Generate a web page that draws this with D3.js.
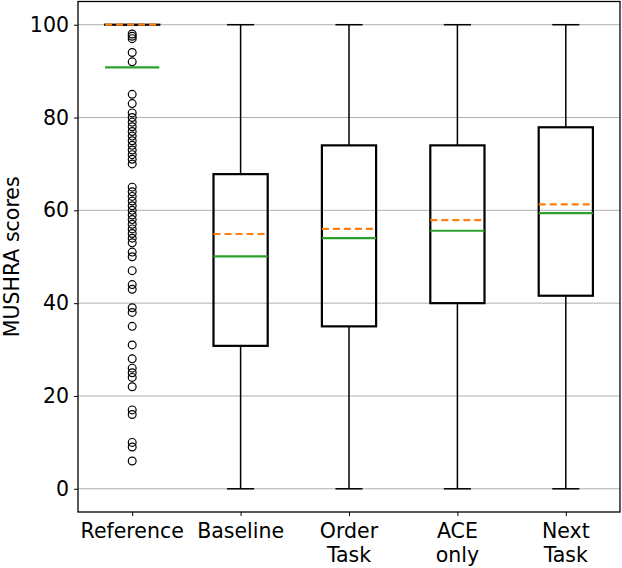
<!DOCTYPE html>
<html>
<head>
<meta charset="utf-8">
<script src="https://cdn.jsdelivr.net/npm/d3@7"></script>
<style>
  body { margin: 0; background: #fff; }
  text { font-family: "DejaVu Sans", sans-serif; }
</style>
</head>
<body>
<div id="chart"></div>
<script>
// categories (two-line labels)
var categories = ['Reference', 'Baseline', 'Order Task', 'ACE only', 'Next Task'];
var labelLines = [['Reference'], ['Baseline'], ['Order', 'Task'], ['ACE', 'only'], ['Next', 'Task']];

// box statistics
var q1 = [100, 30.8, 35, 40, 41.6];
var q3 = [100, 67.8, 74, 74, 77.9];
var medians = [100, 54.9, 56, 57.9, 61.3];
var means = [90.8, 50.1, 54, 55.6, 59.4];
var whiskLow = [100, 0, 0, 0, 0];
var whiskHigh = [100, 100, 100, 100, 100];

// outliers of the Reference condition
var refOutliers = [98, 97.5, 97, 94, 92, 85, 83, 81, 80, 79, 78, 77, 76, 75, 74, 73, 72, 71, 70,
  65, 64, 63, 62, 61, 60, 59, 58, 57, 56, 55, 54, 53, 51, 50, 47, 44, 43, 39, 38, 35,
  31, 28, 26, 25, 24, 22, 17, 16, 10, 9, 6];

var yTicks = [0, 20, 40, 60, 80, 100];

var width = 622, height = 568;
var plotL = 78, plotR = 620, plotT = 1.5, plotB = 512;
var fontSize = 20.5;

var svg = d3.select('#chart')
  .append('svg')
  .attr('width', width)
  .attr('height', height);

var x = d3.scalePoint()
  .domain(categories)
  .range([plotL, plotR])
  .padding(0.5);

var y = d3.scaleLinear()
  .domain([-5, 105])
  .range([plotB, plotT]);

var boxW = x.step() * 0.5;

// grid
svg.append('g')
  .selectAll('line')
  .data(yTicks)
  .enter().append('line')
  .attr('x1', plotL).attr('x2', plotR)
  .attr('y1', d => y(d)).attr('y2', d => y(d))
  .attr('stroke', '#b0b0b0')
  .attr('stroke-width', 1);

var rows = categories.map((c, i) => ({
  cat: c, q1: q1[i], q3: q3[i], med: medians[i], mean: means[i], lo: whiskLow[i], hi: whiskHigh[i]
}));

var g = svg.append('g');

// whiskers
g.selectAll('.wlo').data(rows).enter().append('line')
  .attr('x1', d => x(d.cat)).attr('x2', d => x(d.cat))
  .attr('y1', d => y(d.q1)).attr('y2', d => y(d.lo))
  .attr('stroke', '#000').attr('stroke-width', 1.5);
g.selectAll('.whi').data(rows).enter().append('line')
  .attr('x1', d => x(d.cat)).attr('x2', d => x(d.cat))
  .attr('y1', d => y(d.q3)).attr('y2', d => y(d.hi))
  .attr('stroke', '#000').attr('stroke-width', 1.5);

// caps
['lo', 'hi'].forEach(k => {
  g.selectAll('.cap' + k).data(rows).enter().append('line')
    .attr('x1', d => x(d.cat) - boxW / 4).attr('x2', d => x(d.cat) + boxW / 4)
    .attr('y1', d => y(d[k])).attr('y2', d => y(d[k]))
    .attr('stroke', '#000').attr('stroke-width', 1.5);
});

// boxes
g.selectAll('rect').data(rows).enter().append('rect')
  .attr('x', d => x(d.cat) - boxW / 2)
  .attr('width', boxW)
  .attr('y', d => y(d.q3))
  .attr('height', d => Math.max(0.01, y(d.q1) - y(d.q3)))
  .attr('fill', 'none')
  .attr('stroke', '#000')
  .attr('stroke-width', 2.2);

// means (green solid)
g.selectAll('.mean').data(rows).enter().append('line')
  .attr('x1', d => x(d.cat) - boxW / 2).attr('x2', d => x(d.cat) + boxW / 2)
  .attr('y1', d => y(d.mean)).attr('y2', d => y(d.mean))
  .attr('stroke', '#2ca02c').attr('stroke-width', 2.2);

// medians (orange dashed)
g.selectAll('.med').data(rows).enter().append('line')
  .attr('x1', d => x(d.cat) - boxW / 2).attr('x2', d => x(d.cat) + boxW / 2)
  .attr('y1', d => y(d.med)).attr('y2', d => y(d.med))
  .attr('stroke', '#ff7f0e').attr('stroke-width', 2.2)
  .attr('stroke-dasharray', '7,4');

// outliers
g.selectAll('circle').data(refOutliers).enter().append('circle')
  .attr('cx', x('Reference'))
  .attr('cy', d => y(d))
  .attr('r', 3.9)
  .attr('fill', 'none')
  .attr('stroke', '#000')
  .attr('stroke-width', 1.2);

// frame
svg.append('rect')
  .attr('x', plotL).attr('y', plotT)
  .attr('width', plotR - plotL).attr('height', plotB - plotT)
  .attr('fill', 'none').attr('stroke', '#000').attr('stroke-width', 1.3);

// y axis
var yAxis = svg.append('g')
  .attr('transform', 'translate(' + plotL + ',0)')
  .call(d3.axisLeft(y).tickValues(yTicks).tickSize(4).tickPadding(5));
yAxis.select('.domain').remove();
yAxis.selectAll('text').attr('font-size', fontSize).attr('fill', '#000')
  .style('font-family', '"DejaVu Sans", sans-serif');

// x axis
var xAxis = svg.append('g')
  .attr('transform', 'translate(0,' + plotB + ')')
  .call(d3.axisBottom(x).tickSize(4).tickFormat(''));
xAxis.select('.domain').remove();

svg.append('g').selectAll('text')
  .data(categories)
  .enter().append('text')
  .attr('x', d => x(d))
  .attr('y', 538)
  .attr('text-anchor', 'middle')
  .attr('font-size', fontSize)
  .attr('fill', '#000')
  .each(function (d, i) {
    labelLines[i].forEach((t, j) => {
      d3.select(this).append('tspan')
        .attr('x', x(d))
        .attr('dy', j === 0 ? 0 : 24)
        .text(t);
    });
  });

// y label
svg.append('text')
  .attr('transform', 'translate(19,' + ((plotT + plotB) / 2) + ') rotate(-90)')
  .attr('text-anchor', 'middle')
  .attr('font-size', fontSize)
  .attr('fill', '#000')
  .text('MUSHRA scores');
</script>
</body>
</html>
